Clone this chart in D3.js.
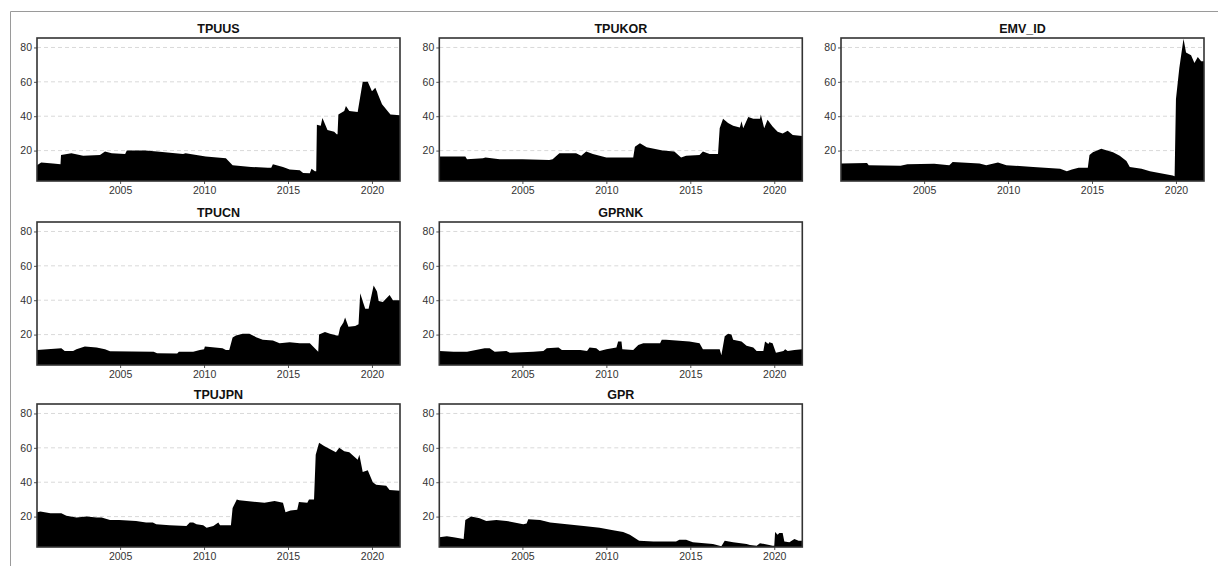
<!DOCTYPE html>
<html>
<head>
<meta charset="utf-8">
<script src="https://cdn.jsdelivr.net/npm/d3@7/dist/d3.min.js"></script>
<style>
  html, body { margin: 0; padding: 0; background: #fff; }
  svg { display: block; }
</style>
</head>
<body>
<svg id="chart" width="1218" height="566"></svg>
<script>
// Panel order (row-major, three columns; slot 5 stays empty)
const panelNames = ["TPUUS", "TPUKOR", "EMV_ID", "TPUCN", "GPRNK", null, "TPUJPN", "GPR"];

// Each series: [decimal year, value]
const TPUUS = [
  [2000.05, 11.5], [2000.3, 13], [2001.0, 12.5], [2001.45, 12], [2001.48, 17.5], [2002.1, 18.5],
  [2002.8, 17], [2003.8, 17.5], [2004.1, 19.5], [2004.5, 18.5], [2005.3, 18], [2005.4, 20],
  [2006.5, 20], [2007.2, 19.5], [2008.75, 18], [2008.9, 18.5], [2010.1, 16.5], [2011.3, 15.5],
  [2011.7, 11.5], [2012.8, 10.5], [2013.8, 10], [2014.0, 10], [2014.1, 12], [2014.7, 10.5],
  [2015.1, 9], [2015.7, 8.5], [2015.9, 7], [2016.3, 6.8], [2016.4, 9.5], [2016.6, 8],
  [2016.68, 8], [2016.72, 35], [2016.95, 34.5], [2017.05, 39], [2017.35, 32], [2017.75, 31],
  [2017.9, 29.5], [2017.95, 29.5], [2018.0, 41], [2018.35, 43], [2018.45, 46], [2018.65, 43],
  [2019.15, 42.5], [2019.45, 60], [2019.75, 60], [2020.0, 54.5], [2020.2, 56.5], [2020.6, 47],
  [2021.1, 41], [2021.67, 40.5]
];

const TPUKOR = [
  [2000.05, 16.5], [2001.6, 16.5], [2001.7, 15], [2002.65, 15.5], [2002.8, 16], [2003.65, 15],
  [2005.0, 15], [2006.6, 14.5], [2006.8, 15], [2007.2, 18.5], [2008.2, 18.5], [2008.5, 17],
  [2008.8, 19.5], [2009.2, 18], [2010.0, 16], [2011.6, 16], [2011.7, 22.3], [2012.0, 24.3],
  [2012.4, 22], [2013.35, 20], [2014.05, 19.5], [2014.45, 16], [2014.75, 17], [2015.55, 17.5],
  [2015.75, 19.5], [2016.15, 18], [2016.65, 18], [2016.75, 33], [2016.95, 38.5], [2017.25, 36],
  [2017.55, 34.5], [2017.95, 33.5], [2018.05, 37], [2018.15, 33], [2018.45, 39.5], [2018.75, 38.5],
  [2019.15, 38.5], [2019.2, 41], [2019.4, 33], [2019.6, 38], [2019.9, 34], [2020.2, 31],
  [2020.5, 30], [2020.8, 31.5], [2021.1, 29], [2021.67, 28.5]
];

const EMV_ID = [
  [2000.05, 12.5], [2001.6, 12.8], [2001.7, 11.5], [2003.6, 11.2], [2004.0, 12], [2005.6, 12.3],
  [2006.5, 11.5], [2006.7, 13.3], [2008.3, 12.5], [2008.7, 11.5], [2009.4, 13], [2009.9, 11.5],
  [2011.5, 10.5], [2013.1, 9.5], [2013.5, 8], [2013.8, 9], [2014.2, 10], [2014.75, 10],
  [2014.85, 17.5], [2015.05, 19], [2015.55, 21], [2016.25, 19], [2016.65, 17], [2017.05, 14],
  [2017.25, 10.5], [2017.95, 9.5], [2018.45, 8], [2019.8, 5.5], [2019.92, 5], [2020.0, 50],
  [2020.2, 68], [2020.45, 85], [2020.6, 77], [2020.9, 75.5], [2021.1, 71], [2021.3, 74.5],
  [2021.5, 72], [2021.67, 72]
];

const TPUCN = [
  [2000.05, 11], [2001.5, 12], [2001.7, 10.5], [2002.2, 10.5], [2002.4, 11.5], [2002.9, 13],
  [2003.6, 12.5], [2004.1, 11.5], [2004.4, 10.3], [2007.0, 10], [2007.2, 9.2], [2008.4, 9],
  [2008.5, 10], [2009.35, 10], [2009.75, 11], [2010.0, 11.5], [2010.05, 13], [2011.1, 12],
  [2011.3, 11], [2011.5, 11], [2011.7, 18.3], [2011.9, 19.5], [2012.3, 20.5], [2012.7, 20.5],
  [2013.1, 18.5], [2013.5, 17], [2014.1, 16.5], [2014.5, 15], [2015.1, 15.5], [2015.7, 15],
  [2016.3, 15], [2016.8, 10], [2016.85, 20], [2017.2, 21.5], [2017.5, 20.5], [2017.9, 19.5],
  [2018.0, 19.5], [2018.1, 24], [2018.3, 27], [2018.4, 30], [2018.6, 24.5], [2019.0, 25],
  [2019.2, 26], [2019.3, 44], [2019.5, 38], [2019.6, 35], [2019.8, 35], [2020.0, 44],
  [2020.1, 48.5], [2020.3, 45], [2020.4, 39.5], [2020.65, 39], [2020.95, 42], [2021.05, 43],
  [2021.25, 40], [2021.67, 40]
];

const GPRNK = [
  [2000.05, 10.5], [2000.9, 10], [2001.7, 10], [2002.45, 11.5], [2002.75, 12], [2003.05, 12],
  [2003.35, 10], [2004.05, 10.5], [2004.25, 9.5], [2005.65, 10], [2006.25, 10.5], [2006.45, 12],
  [2007.15, 12.5], [2007.35, 11], [2008.45, 11], [2008.85, 10.5], [2009.0, 12.5], [2009.4, 12],
  [2009.6, 10.5], [2010.0, 11.5], [2010.6, 12.5], [2010.7, 16], [2010.9, 16], [2010.95, 11.5],
  [2011.6, 11], [2011.9, 14], [2012.2, 15], [2013.0, 15], [2013.2, 15], [2013.3, 17],
  [2013.55, 17], [2014.15, 16.5], [2014.95, 16], [2015.55, 15], [2015.75, 11.5], [2016.75, 11.5],
  [2016.85, 8], [2017.05, 19], [2017.25, 20.5], [2017.45, 20], [2017.55, 17], [2018.05, 16],
  [2018.35, 13.5], [2018.75, 12.5], [2018.95, 10.5], [2019.35, 10.5], [2019.45, 16], [2019.65, 14.5],
  [2019.7, 15.5], [2019.9, 15], [2020.1, 9.5], [2020.55, 10.5], [2020.65, 11.5], [2020.8, 10.5],
  [2021.2, 11], [2021.67, 11.5]
];

const TPUJPN = [
  [2000.05, 22.5], [2000.25, 23], [2000.85, 22], [2001.5, 22], [2001.8, 20.5], [2002.4, 19.5],
  [2003.0, 20], [2003.6, 19.5], [2003.9, 19.5], [2004.4, 18], [2004.95, 18], [2005.95, 17.5],
  [2006.55, 16.5], [2006.95, 16.5], [2007.15, 15.5], [2007.95, 15], [2008.95, 14.5], [2009.15, 16.5],
  [2009.35, 16.5], [2009.55, 15.5], [2009.95, 15], [2010.15, 13.5], [2010.55, 14.5], [2010.85, 16.5],
  [2010.95, 15], [2011.5, 15], [2011.6, 15], [2011.7, 25], [2011.95, 30], [2012.1, 29.5],
  [2013.6, 28], [2014.2, 29], [2014.7, 28], [2014.85, 22.5], [2015.15, 23.5], [2015.55, 24],
  [2015.65, 28.5], [2016.15, 28], [2016.25, 30], [2016.55, 30], [2016.65, 56], [2016.85, 63],
  [2017.15, 61], [2017.85, 57.5], [2018.05, 60], [2018.35, 58], [2018.65, 57.5], [2019.15, 53],
  [2019.25, 56], [2019.45, 46], [2019.75, 47], [2020.05, 40], [2020.25, 38.5], [2020.85, 38],
  [2021.05, 35.5], [2021.67, 35]
];

const GPR = [
  [2000.05, 8], [2000.5, 8.5], [2000.9, 8], [2001.5, 7], [2001.6, 18], [2001.95, 20],
  [2002.45, 19], [2002.85, 17.5], [2003.45, 18], [2004.05, 17.5], [2005.05, 15.5], [2005.25, 16],
  [2005.35, 18.5], [2006.05, 18], [2006.65, 16.5], [2007.65, 15.5], [2008.65, 14.5], [2009.6, 13.5],
  [2010.4, 12], [2011.0, 11], [2011.4, 9.5], [2011.95, 6], [2012.8, 5.5], [2014.15, 5.5],
  [2014.35, 6.5], [2014.75, 6.5], [2015.15, 5], [2016.35, 4], [2016.85, 2.8], [2017.05, 6],
  [2017.55, 5], [2018.35, 4], [2018.55, 3.5], [2018.95, 3], [2019.15, 4.5], [2019.7, 3.5],
  [2019.9, 3], [2020.0, 3], [2020.05, 11], [2020.2, 9.5], [2020.3, 10.5], [2020.5, 10.5],
  [2020.6, 5.5], [2020.9, 5], [2021.2, 7], [2021.45, 6], [2021.67, 6]
];

const seriesData = { TPUUS, TPUKOR, EMV_ID, TPUCN, GPRNK, TPUJPN, GPR };

const xTickValues = [2005, 2010, 2015, 2020];
const yTickValues = [20, 40, 60, 80];
const xDomain = [2000.05, 2021.67];
const yDomain = [2.3, 85.5];

// Layout of the facet grid
const colLeft = [37, 439.3, 841];
const rowTop = [38, 222, 404];
const panelW = 363;
const panelH = 143;

const svg = d3.select("#chart");

// Outer frame lines
svg.append("line").attr("x1", 10.5).attr("x2", 1218).attr("y1", 11.5).attr("y2", 11.5)
  .attr("stroke", "#9a9a9a").attr("stroke-width", 1);
svg.append("line").attr("x1", 10.5).attr("x2", 10.5).attr("y1", 11.5).attr("y2", 566)
  .attr("stroke", "#9a9a9a").attr("stroke-width", 1);

const font = "'Liberation Sans', Arial, Helvetica, sans-serif";

panelNames.forEach((name, i) => {
  if (!name) return;
  const r = Math.floor(i / 3), c = i % 3;
  const x0 = colLeft[c], y0 = rowTop[r];
  const g = svg.append("g").attr("transform", `translate(${x0},${y0})`);

  const x = d3.scaleLinear().domain(xDomain).range([0, panelW]);
  const y = d3.scaleLinear().domain(yDomain).range([panelH, 0]);

  const clipId = "clip-" + i;
  g.append("clipPath").attr("id", clipId)
    .append("rect").attr("width", panelW).attr("height", panelH);

  // dashed horizontal grid
  g.append("g").selectAll("line").data(yTickValues).join("line")
    .attr("x1", 0).attr("x2", panelW)
    .attr("y1", d => y(d)).attr("y2", d => y(d))
    .attr("stroke", "#d9d9d9").attr("stroke-width", 1)
    .attr("stroke-dasharray", "4,3");

  const area = d3.area()
    .x(d => x(d[0]))
    .y0(panelH)
    .y1(d => y(d[1]));

  g.append("path")
    .datum(seriesData[name])
    .attr("clip-path", `url(#${clipId})`)
    .attr("fill", "#000")
    .attr("d", area);

  // axes
  const yAxis = d3.axisLeft(y).tickValues(yTickValues).tickSize(3).tickPadding(2);
  const xAxis = d3.axisBottom(x).tickValues(xTickValues).tickFormat(d3.format("d")).tickSize(3).tickPadding(3);

  const ya = g.append("g").call(yAxis);
  const xa = g.append("g").attr("transform", `translate(0,${panelH})`).call(xAxis);
  [ya, xa].forEach(a => {
    a.select(".domain").remove();
    a.selectAll(".tick line").attr("stroke", "#555");
    a.selectAll(".tick text").attr("fill", "#333")
      .style("font-family", font).style("font-size", "10.5px");
  });

  // panel border
  g.append("rect").attr("x", 0).attr("y", 0).attr("width", panelW).attr("height", panelH)
    .attr("fill", "none").attr("stroke", "#333").attr("stroke-width", 1.6);

  // panel title
  g.append("text")
    .attr("x", panelW / 2).attr("y", -5)
    .attr("text-anchor", "middle")
    .style("font-family", font).style("font-size", "12.5px").style("font-weight", "bold")
    .attr("fill", "#111")
    .text(name);
});
</script>
</body>
</html>
